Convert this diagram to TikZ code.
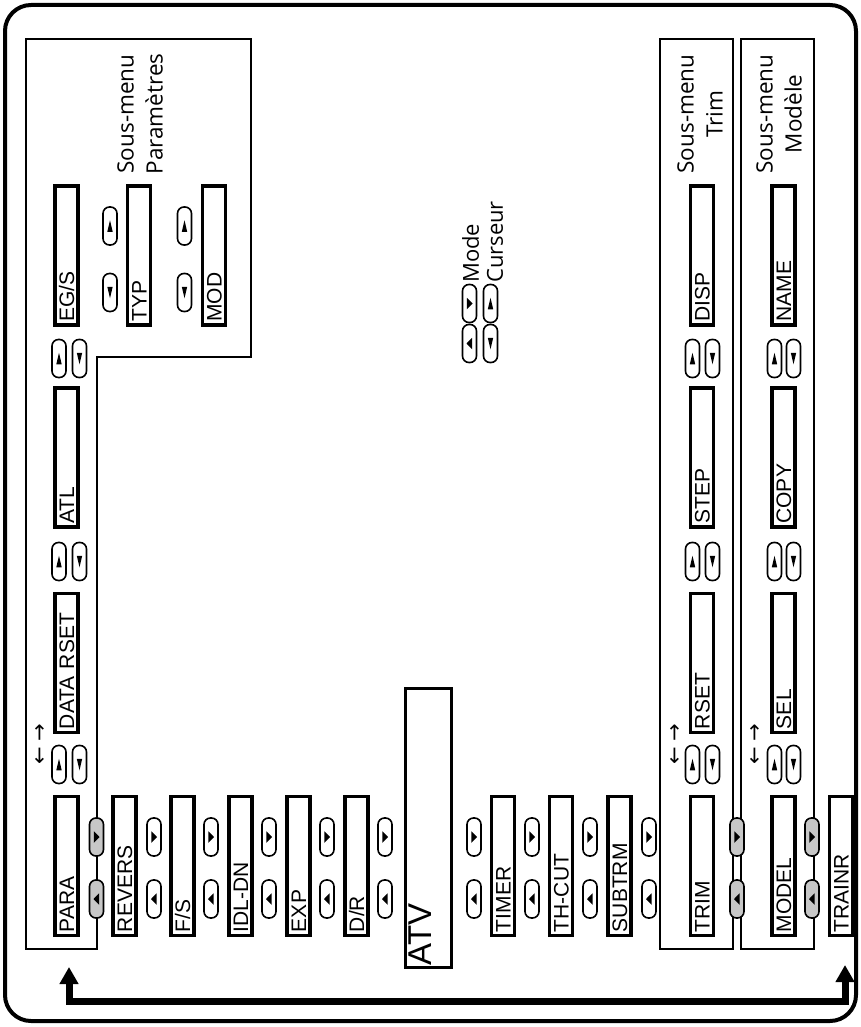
\documentclass[tikz,border=0pt]{standalone}
\usepackage{fontspec}
\usepackage{tikz}
\usetikzlibrary{arrows.meta,calc}
\newfontfamily\boxfont{Liberation Sans}
\newfontfamily\notefont{Open Sans}
\newfontfamily\arrowfont{DejaVu Sans}

\tikzset{
  menubox/.style={draw, line width=3.4pt, rotate=90, minimum height=23pt,
    text width=132pt, inner xsep=3.5pt, inner ysep=0pt, text height=15pt,
    text depth=0pt, align=left, font=\boxfont\fontsize{21}{24}\selectfont},
  atvbox/.style={menubox, minimum height=45.6pt, text width=274.6pt,
    inner xsep=2pt, text height=26pt, text depth=19.6pt,
    font=\boxfont\fontsize{33}{36}\selectfont},
  frame/.style={line width=1.6pt},
  pill/.style={draw, line width=1.6pt, rounded corners=6.5pt,
    minimum width=14pt, minimum height=38pt, inner sep=0pt},
  shaded/.style={fill=black!22},
  keyup/.style={pill, path picture={\fill[black, sharp corners]
    ($(path picture bounding box.center)+(0,-5.75)$) -- ++(2.7,11.5) -- ++(-5.4,0) -- cycle;}},
  keydown/.style={pill, path picture={\fill[black, sharp corners]
    ($(path picture bounding box.center)+(0,5.75)$) -- ++(2.7,-11.5) -- ++(-5.4,0) -- cycle;}},
  keyright/.style={pill, path picture={\fill[black, sharp corners]
    ($(path picture bounding box.center)+(3,0)$) -- ++(-5.6,-5.75) -- ++(0,11.5) -- cycle;}},
  keyleft/.style={pill, path picture={\fill[black, sharp corners]
    ($(path picture bounding box.center)+(-3,0)$) -- ++(5.6,-5.75) -- ++(0,11.5) -- cycle;}},
  submenu/.style={rotate=90, align=center, inner sep=0pt,
    font=\notefont\fontsize{22.5}{29}\selectfont},
  legend/.style={rotate=90, align=left, inner sep=0pt,
    font=\notefont\fontsize{22}{24}\selectfont},
  shiftmark/.style={rotate=90, inner sep=0pt, font=\arrowfont\fontsize{21}{21}\selectfont},
}

\begin{document}
\begin{tikzpicture}[x=1pt, y=-1pt]
  \useasboundingbox (0,0) rectangle (860,1027);
  \draw[line width=4pt, rounded corners=26pt] (5,5) rectangle (856,1021);

  % submenu frames
  \draw[frame] (26,39) -- (251,39) -- (251,357) -- (97,357) -- (97,949) -- (26,949) -- cycle;
  \draw[frame] (660,39) rectangle (733,949);
  \draw[frame] (741,39) rectangle (814,949);

  % main menu
  \node[menubox] (para) at (66.5,866) {PARA};
  \node[menubox] (revers) at (124.5,866) {REVERS};
  \node[menubox] (fs) at (182.5,866) {F/S};
  \node[menubox] (idldn) at (240.5,866) {IDL-DN};
  \node[menubox] (expo) at (298.5,866) {EXP};
  \node[menubox] (dr) at (356.5,866) {D/R};
  \node[atvbox] (atv) at (428.5,828) {ATV};
  \node[menubox] (timer) at (503,866) {TIMER};
  \node[menubox] (thcut) at (561,866) {TH-CUT};
  \node[menubox] (subtrm) at (619.5,866) {SUBTRM};
  \node[menubox] (trim) at (702,866) {TRIM};
  \node[menubox] (model) at (783.5,866) {MODEL};
  \node[menubox] (trainr) at (841,866) {TRAINR};

  \node[keyright, shaded] (fwd1) at (96.5,837) {};
  \node[keyleft, shaded] (back1) at (96.5,899) {};
  \node[keyright] (fwd2) at (154,837) {};
  \node[keyleft] (back2) at (154,899) {};
  \node[keyright] (fwd3) at (211,837) {};
  \node[keyleft] (back3) at (211,899) {};
  \node[keyright] (fwd4) at (269,837) {};
  \node[keyleft] (back4) at (269,899) {};
  \node[keyright] (fwd5) at (327,837) {};
  \node[keyleft] (back5) at (327,899) {};
  \node[keyright] (fwd6) at (385,837) {};
  \node[keyleft] (back6) at (385,899) {};
  \node[keyright] (fwd7) at (474,837) {};
  \node[keyleft] (back7) at (474,899) {};
  \node[keyright] (fwd8) at (532,837) {};
  \node[keyleft] (back8) at (532,899) {};
  \node[keyright] (fwd9) at (590,837) {};
  \node[keyleft] (back9) at (590,899) {};
  \node[keyright] (fwd10) at (649,837) {};
  \node[keyleft] (back10) at (649,899) {};
  \node[keyright, shaded] (fwd11) at (737,837) {};
  \node[keyleft, shaded] (back11) at (737,899) {};
  \node[keyright, shaded] (fwd12) at (812,837) {};
  \node[keyleft, shaded] (back12) at (812,899) {};

  % Parametres submenu
  \node[menubox] (datarset) at (66.5,663) {DATA RSET};
  \node[menubox] (atl) at (66.5,457.5) {ATL};
  \node[menubox] (egs) at (66.5,255.5) {EG/S};
  \node[menubox] (typ) at (139,255.5) {TYP};
  \node[menubox] (modmix) at (214,255.5) {MOD};
  \node[shiftmark] (parshift) at (41,744) {←\hspace{5pt}→};
  \node[keyup] (parup1) at (59,764.5) {};
  \node[keydown] (pardn1) at (79.5,764.5) {};
  \node[keyup] (parup2) at (59,561.5) {};
  \node[keydown] (pardn2) at (79.5,561.5) {};
  \node[keyup] (parup3) at (59,358.5) {};
  \node[keydown] (pardn3) at (79.5,358.5) {};
  \node[keyup] (typup) at (110,226) {};
  \node[keydown] (typdn) at (110,292.5) {};
  \node[keyup] (modup) at (184.5,226) {};
  \node[keydown] (moddn) at (184.5,292.5) {};
  \node[submenu] (parlabel) at (140,114) {Sous-menu\\Paramètres};

  % Trim submenu
  \node[menubox] (rset) at (702,663) {RSET};
  \node[menubox] (trimstep) at (702,457.5) {STEP};
  \node[menubox] (disp) at (702,255.5) {DISP};
  \node[shiftmark] (trimshift) at (676,744) {←\hspace{5pt}→};
  \node[keyup] (trimup1) at (692.5,764.5) {};
  \node[keydown] (trimdn1) at (712.5,764.5) {};
  \node[keyup] (trimup2) at (692.5,561.5) {};
  \node[keydown] (trimdn2) at (712.5,561.5) {};
  \node[keyup] (trimup3) at (692.5,358.5) {};
  \node[keydown] (trimdn3) at (712.5,358.5) {};
  \node[submenu] (trimlabel) at (700,114) {Sous-menu\\Trim};

  % Modele submenu
  \node[menubox] (sel) at (783.5,663) {SEL};
  \node[menubox] (copy) at (783.5,457.5) {COPY};
  \node[menubox] (name) at (783.5,255.5) {NAME};
  \node[shiftmark] (modelshift) at (756,744) {←\hspace{5pt}→};
  \node[keyup] (modelup1) at (774.5,764.5) {};
  \node[keydown] (modeldn1) at (793.5,764.5) {};
  \node[keyup] (modelup2) at (774.5,561.5) {};
  \node[keydown] (modeldn2) at (793.5,561.5) {};
  \node[keyup] (modelup3) at (774.5,358.5) {};
  \node[keydown] (modeldn3) at (793.5,358.5) {};
  \node[submenu] (modellabel) at (779,114) {Sous-menu\\Modèle};

  % keys legend
  \node[keyright] (modefwd) at (469.5,303.5) {};
  \node[keyleft] (modeback) at (469.5,343.5) {};
  \node[keyup] (curup) at (490.5,303.5) {};
  \node[keydown] (curdn) at (490.5,343.5) {};
  \node[legend, anchor=north west] (keylabel) at (462,283) {Mode\\Curseur};

  % return loop
  \coordinate (loopL) at (69,967);
  \coordinate (loopR) at (845,965);
  \draw[line width=7pt, {Triangle[width=18pt,length=17pt]}-{Triangle[width=18pt,length=17pt]}]
    (loopL) -- ++(0,34) -| (loopR);
\end{tikzpicture}
\end{document}
